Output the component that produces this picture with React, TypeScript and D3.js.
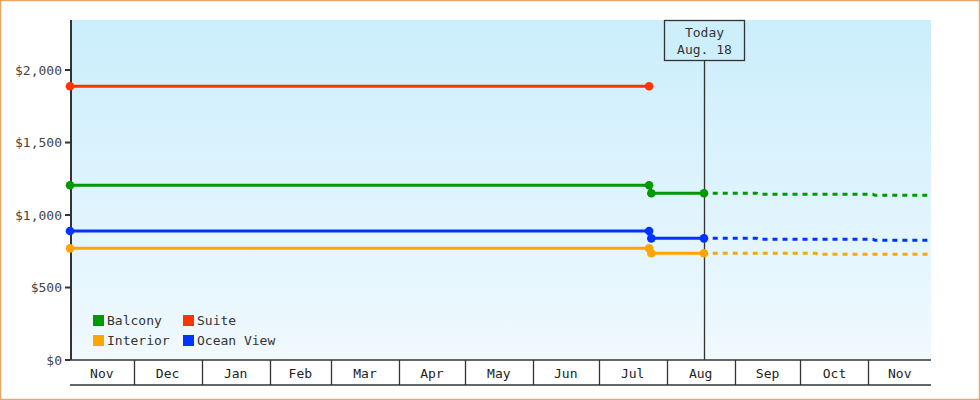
import React, { useEffect, useRef } from 'react';
import * as d3 from 'd3';

const WIDTH = 980;
const HEIGHT = 400;
const FONT = '"DejaVu Sans Mono", monospace';

// price history (solid) and forecast (dashed)
const historyDates = ['2017-11-02', '2018-07-24', '2018-07-25', '2018-08-18'];
const balconyHistory = [1205, 1205, 1150, 1150];
const interiorHistory = [770, 770, 736, 736];
const oceanViewHistory = [890, 890, 839, 839];
const suiteDates = ['2017-11-02', '2018-07-24'];
const suiteHistory = [1888, 1888];

const forecastDates = ['2018-08-22', '2018-09-11', '2018-09-12', '2018-10-08', '2018-10-09', '2018-11-03', '2018-11-04', '2018-11-29'];
const balconyForecast = [1150, 1150, 1143, 1143, 1143, 1143, 1136, 1136];
const interiorForecast = [736, 736, 736, 736, 729, 729, 729, 729];
const oceanViewForecast = [839, 839, 832, 832, 832, 832, 826, 826];

const yTicks = [0, 500, 1000, 1500, 2000];
const todayDate = '2018-08-18';
const todayLabel = ['Today', 'Aug. 18'];

const seriesNames = ['Balcony', 'Suite', 'Interior', 'Ocean View'];
const seriesColors = ['#009900', '#ff3300', '#ffa500', '#0033ff'];

const parse = (s: string) => new Date(s + 'T00:00:00Z');

const App: React.FC = () => {
  const svgRef = useRef<SVGSVGElement>(null);

  useEffect(() => {
    if (!svgRef.current) return;
    const svg = d3.select(svgRef.current);
    svg.selectAll('*').remove();

    const left = 70, right = 931, top = 20, bottom = 360, axisBottom = 385;

    const x = d3.scaleUtc()
      .domain([parse('2017-11-02'), new Date(Date.UTC(2018, 10, 29, 12))])
      .range([left, right]);
    const y = d3.scaleLinear().domain([0, 2345]).range([bottom, top]);

    // frame
    svg.append('rect')
      .attr('x', 0.5).attr('y', 0.5)
      .attr('width', WIDTH - 1).attr('height', HEIGHT - 1)
      .attr('fill', 'white').attr('stroke', '#e8a865').attr('stroke-width', 1.5);

    // background gradient
    const defs = svg.append('defs');
    const grad = defs.append('linearGradient').attr('id', 'bg').attr('x1', 0).attr('y1', 0).attr('x2', 0).attr('y2', 1);
    grad.append('stop').attr('offset', '0%').attr('stop-color', '#cbeefc');
    grad.append('stop').attr('offset', '100%').attr('stop-color', '#f0f9fe');

    svg.append('rect')
      .attr('x', left).attr('y', top)
      .attr('width', right - left).attr('height', bottom - top)
      .attr('fill', 'url(#bg)');

    // y axis
    svg.append('line')
      .attr('x1', left + 1).attr('x2', left + 1).attr('y1', top).attr('y2', bottom)
      .attr('stroke', '#333').attr('stroke-width', 2);
    const yt = svg.append('g').selectAll('g').data(yTicks).enter().append('g');
    yt.append('line')
      .attr('x1', left - 5).attr('x2', left).attr('y1', d => y(d)).attr('y2', d => y(d))
      .attr('stroke', '#333').attr('stroke-width', 2);
    yt.append('text')
      .attr('x', left - 8).attr('y', d => y(d)).attr('dy', '0.35em')
      .attr('text-anchor', 'end')
      .attr('fill', '#444').style('font-family', FONT).style('font-size', '13px')
      .text(d => d3.format('$,')(d));

    // x axis month cells
    const [d0, d1] = x.domain();
    const bounds = [d0, ...d3.utcMonth.range(d3.utcMonth.ceil(d0), d1), d1];
    svg.append('line')
      .attr('x1', left).attr('x2', right).attr('y1', bottom).attr('y2', bottom)
      .attr('stroke', '#333').attr('stroke-width', 1.5);
    svg.append('line')
      .attr('x1', left).attr('x2', right).attr('y1', axisBottom).attr('y2', axisBottom)
      .attr('stroke', '#333').attr('stroke-width', 1.5);
    svg.append('g').selectAll('line').data(bounds.slice(1, -1)).enter().append('line')
      .attr('x1', d => Math.round(x(d)) + 0.5).attr('x2', d => Math.round(x(d)) + 0.5)
      .attr('y1', bottom).attr('y2', axisBottom)
      .attr('stroke', '#333').attr('stroke-width', 1.3);
    svg.append('g').selectAll('text').data(bounds.slice(0, -1)).enter().append('text')
      .attr('x', (d, i) => (x(d) + x(bounds[i + 1])) / 2)
      .attr('y', 378)
      .attr('text-anchor', 'middle')
      .attr('fill', '#222').style('font-family', FONT).style('font-size', '13px')
      .text(d => d3.utcFormat('%b')(d));

    // today marker
    const tx = Math.round(x(parse(todayDate))) + 0.5;
    svg.append('line')
      .attr('x1', tx).attr('x2', tx).attr('y1', 61).attr('y2', bottom)
      .attr('stroke', '#333').attr('stroke-width', 1.3);
    svg.append('rect')
      .attr('x', 664.5).attr('y', 20.5).attr('width', 80).attr('height', 40)
      .attr('fill', '#cdeffc').attr('stroke', '#333').attr('stroke-width', 1.3);
    svg.append('g').selectAll('text').data(todayLabel).enter().append('text')
      .attr('x', tx).attr('y', (d, i) => 37 + i * 17)
      .attr('text-anchor', 'middle')
      .attr('fill', '#333').style('font-family', FONT).style('font-size', '13px')
      .text(d => d);

    const line = d3.line<[Date, number]>().x(d => x(d[0])).y(d => y(d[1]));
    const zip = (dates: string[], vals: number[]) => dates.map((d, i) => [parse(d), vals[i]] as [Date, number]);

    const forecasts = [
      { data: zip(forecastDates, balconyForecast), color: seriesColors[0] },
      { data: zip(forecastDates, interiorForecast), color: seriesColors[2] },
      { data: zip(forecastDates, oceanViewForecast), color: seriesColors[3] },
    ];
    forecasts.forEach(f => {
      svg.append('path')
        .attr('d', line(f.data))
        .attr('fill', 'none').attr('stroke', f.color).attr('stroke-width', 3)
        .attr('stroke-dasharray', '5,5');
    });

    const history = [
      { data: zip(suiteDates, suiteHistory), color: seriesColors[1] },
      { data: zip(historyDates, balconyHistory), color: seriesColors[0] },
      { data: zip(historyDates, oceanViewHistory), color: seriesColors[3] },
      { data: zip(historyDates, interiorHistory), color: seriesColors[2] },
    ];
    history.forEach(h => {
      svg.append('path')
        .attr('d', line(h.data))
        .attr('fill', 'none').attr('stroke', h.color).attr('stroke-width', 3);
      svg.append('g').selectAll('circle').data(h.data).enter().append('circle')
        .attr('cx', d => x(d[0])).attr('cy', d => y(d[1])).attr('r', 4.3)
        .attr('fill', h.color);
    });

    // legend
    const lg = svg.append('g').selectAll('g').data(seriesNames).enter().append('g')
      .attr('transform', (d, i) => `translate(${93 + (i % 2) * 90},${315 + Math.floor(i / 2) * 20})`);
    lg.append('rect').attr('width', 11).attr('height', 11).attr('fill', (d, i) => seriesColors[i]);
    lg.append('text')
      .attr('x', 14).attr('y', 10)
      .attr('fill', '#333').style('font-family', FONT).style('font-size', '13px')
      .text(d => d);
  }, []);

  return (
    <div style={{ position: 'absolute', left: 0, top: 0, width: WIDTH, height: HEIGHT }}>
      <svg ref={svgRef} width={WIDTH} height={HEIGHT} style={{ display: 'block' }} />
    </div>
  );
};

export default App;
